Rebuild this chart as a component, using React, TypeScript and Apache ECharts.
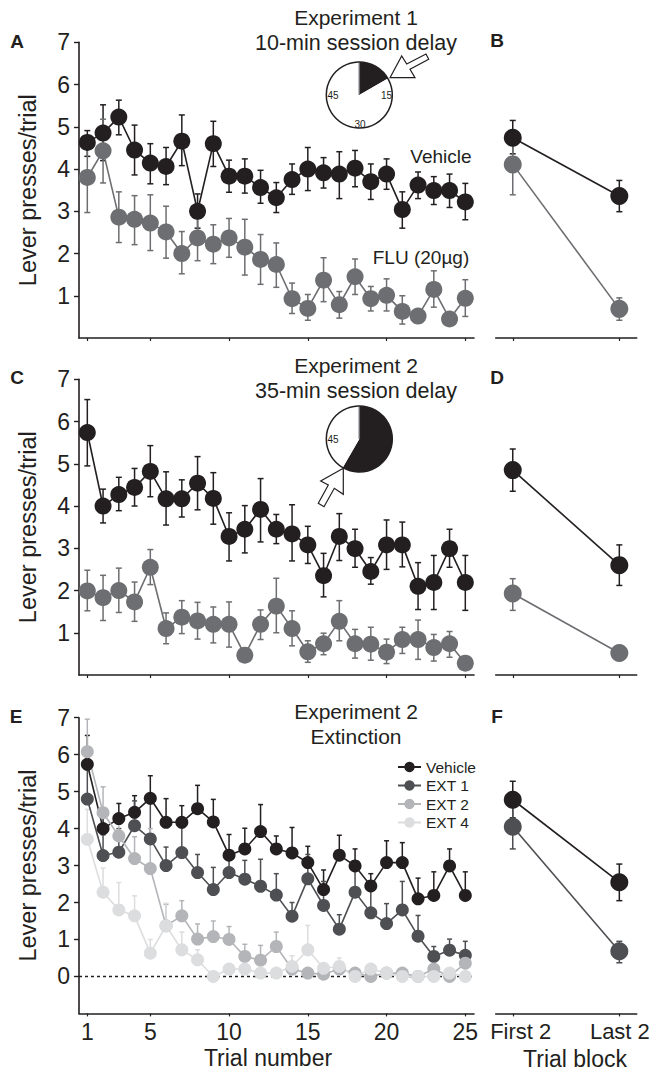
import React, { useEffect, useRef } from "react";
import * as echarts from "echarts";

const FONT = "Liberation Sans";
const BLACK = "#231f20";
const GRAY = "#6d6e71";
const DARK = "#4d4f52";
const LIGHT = "#b3b5b8";
const LIGHTEST = "#dcddde";

const trials = Array.from({ length: 25 }, (_, i) => i + 1);
const trialTicks = [1, 5, 10, 15, 20, 25];
const blockX = [1, 2];

// Panel A
const aVeh = [4.63, 4.85, 5.23, 4.45, 4.14, 4.06, 4.66, 3.0, 4.6, 3.83, 3.83, 3.56, 3.32, 3.75, 4.0, 3.91, 3.88, 4.02, 3.7, 3.88, 3.04, 3.62, 3.49, 3.49, 3.22];
const aVehHi = [4.91, 5.52, 5.63, 5.04, 4.6, 4.51, 5.28, 3.41, 5.13, 4.21, 4.24, 3.97, 3.68, 4.12, 4.51, 4.27, 4.41, 4.44, 4.12, 4.24, 3.46, 3.93, 3.82, 3.88, 3.66];
const aVehLo = [4.3, 4.2, 4.81, 3.86, 3.65, 3.63, 4.08, 2.6, 4.06, 3.45, 3.43, 3.19, 2.97, 3.4, 3.49, 3.55, 3.3, 3.58, 3.28, 3.52, 2.6, 3.3, 3.16, 3.09, 2.8];
const aFlu = [3.8, 4.43, 2.86, 2.81, 2.72, 2.51, 2.0, 2.37, 2.22, 2.37, 2.15, 1.86, 1.74, 0.93, 0.7, 1.37, 0.79, 1.45, 0.93, 1.01, 0.63, 0.52, 1.15, 0.45, 0.94];
const aFluHi = [4.63, 5.18, 3.46, 3.37, 3.39, 3.12, 2.52, 2.9, 2.68, 2.83, 2.81, 2.45, 2.25, 1.3, 1.03, 1.9, 1.1, 1.87, 1.22, 1.4, 1.0, 0.6, 1.59, 0.53, 1.38];
const aFluLo = [2.97, 3.67, 2.26, 2.21, 2.07, 1.89, 1.52, 1.83, 1.76, 1.91, 1.49, 1.27, 1.2, 0.58, 0.42, 0.86, 0.47, 1.03, 0.64, 0.64, 0.33, 0.44, 0.73, 0.37, 0.51];

// Panel B
const bVeh = [4.74, 3.36];
const bVehHi = [5.15, 3.73];
const bVehLo = [4.36, 2.99];
const bFlu = [4.11, 0.69];
const bFluHi = [4.81, 0.95];
const bFluLo = [3.39, 0.42];

// Panel C
const cVeh = [5.74, 4.0, 4.27, 4.44, 4.82, 4.17, 4.17, 4.54, 4.18, 3.28, 3.45, 3.92, 3.45, 3.34, 3.08, 2.35, 3.28, 2.99, 2.45, 3.08, 3.08, 2.1, 2.19, 2.99, 2.19];
const cVehHi = [6.52, 4.4, 4.68, 4.89, 5.43, 4.81, 4.62, 5.17, 4.79, 3.84, 4.01, 4.65, 3.8, 4.03, 3.52, 2.88, 3.82, 3.45, 2.78, 3.67, 3.62, 2.66, 2.83, 3.45, 2.83];
const cVehLo = [4.95, 3.6, 3.89, 4.0, 4.22, 3.55, 3.74, 3.91, 3.57, 2.7, 2.89, 3.15, 3.11, 2.7, 2.64, 1.85, 2.71, 2.55, 2.15, 2.5, 2.56, 1.55, 1.55, 2.55, 1.53];
const cFlu = [1.99, 1.83, 2.0, 1.73, 2.55, 1.1, 1.37, 1.28, 1.2, 1.2, 0.47, 1.2, 1.63, 1.1, 0.55, 0.74, 1.27, 0.74, 0.73, 0.54, 0.84, 0.84, 0.65, 0.74, 0.28];
const cFluHi = [2.48, 2.36, 2.53, 2.2, 2.97, 1.47, 1.76, 1.72, 1.61, 1.73, 0.55, 1.54, 2.29, 1.52, 0.81, 0.99, 1.76, 1.08, 1.13, 0.85, 1.13, 1.3, 0.96, 1.03, 0.33];
const cFluLo = [1.52, 1.29, 1.48, 1.27, 2.14, 0.74, 0.98, 0.85, 0.76, 0.66, 0.39, 0.84, 1.0, 0.69, 0.3, 0.48, 0.81, 0.4, 0.35, 0.27, 0.51, 0.37, 0.33, 0.42, 0.23];

// Panel D
const dVeh = [4.85, 2.6];
const dVehHi = [5.35, 3.08];
const dVehLo = [4.35, 2.12];
const dFlu = [1.93, 0.52];
const dFluHi = [2.28, 0.6];
const dFluLo = [1.53, 0.44];

// Panel E (upper error bars only)
const eExt1 = [4.8, 3.27, 3.36, 4.08, 3.72, 3.0, 3.35, 2.81, 2.35, 2.81, 2.63, 2.44, 2.2, 1.63, 2.64, 1.92, 1.28, 2.28, 1.72, 1.43, 1.8, 1.09, 0.54, 0.71, 0.57];
const eExt1Hi = [5.7, 3.83, 4.0, 4.75, 4.75, 3.5, 4.2, 3.3, 2.95, 3.38, 3.14, 3.17, 2.78, 2.0, 3.3, 2.57, 1.67, 2.93, 2.41, 1.97, 2.57, 1.65, 0.81, 1.01, 0.95];
const eExt2 = [6.08, 4.43, 3.8, 3.19, 2.92, 1.37, 1.64, 1.01, 1.08, 1.0, 0.54, 0.44, 0.81, 0.2, 0.09, 0.06, 0.2, 0.09, 0.0, 0.09, 0.09, 0.0, 0.2, 0.0, 0.36];
const eExt2Hi = [6.96, 5.13, 4.39, 3.78, 4.0, 1.95, 2.05, 1.42, 1.5, 1.35, 0.87, 0.84, 1.2, 0.3, 0.15, 0.12, 0.3, 0.15, 0.05, 0.15, 0.15, 0.05, 0.3, 0.05, 0.5];
const eExt4 = [3.71, 2.28, 1.8, 1.64, 0.63, 1.37, 0.72, 0.45, 0.0, 0.2, 0.2, 0.09, 0.09, 0.27, 0.72, 0.22, 0.27, 0.0, 0.2, 0.09, 0.0, 0.0, 0.0, 0.09, 0.0];
const eExt4Hi = [4.52, 2.93, 2.54, 2.18, 1.0, 1.98, 1.2, 0.72, 0.05, 0.3, 0.3, 0.15, 0.15, 0.56, 1.38, 0.35, 0.5, 0.05, 0.3, 0.15, 0.05, 0.05, 0.05, 0.15, 0.05];

// Panel F
const fVeh = [4.78, 2.55];
const fVehHi = [5.28, 3.04];
const fVehLo = [4.29, 2.05];
const fExt1 = [4.05, 0.68];
const fExt1Hi = [4.6, 0.95];
const fExt1Lo = [3.45, 0.37];

// Clock pies (minutes)
const pieA = [10, 50];
const pieC = [35, 25];

const yTicksAC = [1, 2, 3, 4, 5, 6, 7];
const yTicksE = [0, 1, 2, 3, 4, 5, 6, 7];

const App = () => {
  const ref = useRef<HTMLDivElement>(null);
  useEffect(() => {
    document.body.style.margin = "0";
    const chart = echarts.init(ref.current!, null, { renderer: "svg" });

    const grids: any[] = [];
    const xAxes: any[] = [];
    const yAxes: any[] = [];
    const series: any[] = [];

    const addPanel = (p: {
      top: number; left: number; width: number; min: number; max: number; xMin: number; xMax: number;
      ticks: number[]; labels: boolean; yTicks?: number[]; block?: boolean;
    }) => {
      const i = grids.length;
      grids.push({ left: p.left, top: p.top, width: p.width, height: 295.7 });
      xAxes.push({
        type: "value", gridIndex: i, min: p.xMin, max: p.xMax,
        splitLine: { show: false },
        axisLine: { onZero: false, lineStyle: { color: BLACK, width: 1.6 } },
        axisTick: { length: 3, customValues: p.ticks, lineStyle: { color: BLACK, width: 1.2 } },
        axisLabel: p.labels
          ? p.block
            ? {
                customValues: [1.075, 2.005], margin: 7, fontSize: 22, fontFamily: FONT, color: BLACK,
                hideOverlap: false, showMinLabel: true, showMaxLabel: true,
                formatter: (v: number) => (v < 1.5 ? "First 2" : "Last 2"),
              }
            : { customValues: p.ticks, margin: 7, fontSize: 23, fontFamily: FONT, color: BLACK }
          : { show: false },
      });
      yAxes.push(
        p.yTicks
          ? {
              type: "value", gridIndex: i, min: p.min, max: p.max, interval: 1,
              splitLine: { show: false },
              axisLine: { show: true, onZero: false, lineStyle: { color: BLACK, width: 1.6 } },
              axisTick: { show: true, length: 5, customValues: p.yTicks, lineStyle: { color: BLACK, width: 1.4 } },
              axisLabel: { customValues: p.yTicks, margin: 9, fontSize: 23, fontFamily: FONT, color: BLACK },
              name: "Lever presses/trial", nameLocation: "middle", nameGap: 39,
              nameTextStyle: { fontSize: 23.5, fontFamily: FONT, color: BLACK },
            }
          : { type: "value", gridIndex: i, min: p.min, max: p.max, show: false }
      );
      return i;
    };

    const addErr = (i: number, xs: number[], hi: number[], lo: number[], color: string, capW: number) => {
      series.push({
        type: "custom", xAxisIndex: i, yAxisIndex: i, silent: true, clip: false,
        encode: { x: 0, y: [1, 2] },
        data: xs.map((x, k) => [x, hi[k], lo[k]]),
        renderItem: (_: any, api: any) => {
          const top = api.coord([api.value(0), api.value(1)]);
          const bot = api.coord([api.value(0), api.value(2)]);
          const st = { stroke: color, lineWidth: 1.5, fill: "none" };
          return {
            type: "group",
            children: [
              { type: "line", shape: { x1: top[0], y1: top[1], x2: bot[0], y2: bot[1] }, style: st },
              { type: "line", shape: { x1: top[0] - capW, y1: top[1], x2: top[0] + capW, y2: top[1] }, style: st },
              { type: "line", shape: { x1: bot[0] - capW, y1: bot[1], x2: bot[0] + capW, y2: bot[1] }, style: st },
            ],
          };
        },
      });
    };

    const addLine = (i: number, name: string, xs: number[], ys: number[], color: string, size: number) => {
      series.push({
        type: "line", name, xAxisIndex: i, yAxisIndex: i, silent: true, clip: false,
        data: xs.map((x, k) => [x, ys[k]]),
        symbol: "circle", symbolSize: size, showSymbol: true,
        lineStyle: { color, width: 1.6 },
        itemStyle: { color },
      });
    };

    const TRIAL = { left: 79, width: 395, xMin: 0.472, xMax: 25.552, ticks: trialTicks };
    const BLOCK = { left: 495.7, width: 141, xMin: 0.84, xMax: 2.163, ticks: blockX };

    const A = addPanel({ ...TRIAL, top: 42.3, min: 0, max: 7, labels: false, yTicks: yTicksAC });
    addErr(A, trials, aVehHi, aVehLo, BLACK, 3);
    addLine(A, "A Vehicle", trials, aVeh, BLACK, 17);
    addErr(A, trials, aFluHi, aFluLo, GRAY, 3);
    addLine(A, "A FLU", trials, aFlu, GRAY, 17);

    const B = addPanel({ ...BLOCK, top: 42.3, min: 0, max: 7, labels: false });
    addErr(B, blockX, bVehHi, bVehLo, BLACK, 3);
    addLine(B, "B Vehicle", blockX, bVeh, BLACK, 18);
    addErr(B, blockX, bFluHi, bFluLo, GRAY, 3);
    addLine(B, "B FLU", blockX, bFlu, GRAY, 18);

    const C = addPanel({ ...TRIAL, top: 379.3, min: 0, max: 7, labels: false, yTicks: yTicksAC });
    addErr(C, trials, cVehHi, cVehLo, BLACK, 3);
    addLine(C, "C Vehicle", trials, cVeh, BLACK, 17);
    addErr(C, trials, cFluHi, cFluLo, GRAY, 3);
    addLine(C, "C FLU", trials, cFlu, GRAY, 17);

    const D = addPanel({ ...BLOCK, top: 379.3, min: 0, max: 7, labels: false });
    addErr(D, blockX, dVehHi, dVehLo, BLACK, 3);
    addLine(D, "D Vehicle", blockX, dVeh, BLACK, 18);
    addErr(D, blockX, dFluHi, dFluLo, GRAY, 3);
    addLine(D, "D FLU", blockX, dFlu, GRAY, 18);

    const E = addPanel({ ...TRIAL, top: 717.7, min: -1, max: 7, labels: true, yTicks: yTicksE });
    series.push({
      type: "line", name: "zero", xAxisIndex: E, yAxisIndex: E, silent: true, symbol: "none",
      data: [[TRIAL.xMin, 0], [TRIAL.xMax, 0]],
      lineStyle: { color: BLACK, width: 1.5, type: [3, 3] },
    });
    addErr(E, trials, cVehHi, cVeh, BLACK, 2.5);
    addLine(E, "Vehicle", trials, cVeh, BLACK, 13);
    addErr(E, trials, eExt1Hi, eExt1, DARK, 2.5);
    addLine(E, "EXT 1", trials, eExt1, DARK, 13);
    addErr(E, trials, eExt2Hi, eExt2, LIGHT, 2.5);
    addLine(E, "EXT 2", trials, eExt2, LIGHT, 13);
    addErr(E, trials, eExt4Hi, eExt4, LIGHTEST, 2.5);
    addLine(E, "EXT 4", trials, eExt4, LIGHTEST, 13);

    const F = addPanel({ ...BLOCK, top: 717.7, min: -1, max: 7, labels: true, block: true });
    addErr(F, blockX, fVehHi, fVehLo, BLACK, 3);
    addLine(F, "F Vehicle", blockX, fVeh, BLACK, 18);
    addErr(F, blockX, fExt1Hi, fExt1Lo, DARK, 3);
    addLine(F, "F EXT 1", blockX, fExt1, DARK, 18);

    const pie = (cy: number, values: number[]) => ({
      type: "pie", silent: true, center: [359.3, cy], radius: [0, 33], startAngle: 90, clockwise: true,
      label: { show: false }, labelLine: { show: false }, z: 5,
      data: [
        { value: values[0], name: "session", itemStyle: { color: BLACK } },
        { value: values[1], name: "rest", itemStyle: { color: "#ffffff" } },
      ],
    });
    series.push(pie(95, pieA), pie(439, pieC));

    const txt = (text: string, x: number, y: number, fontSize: number, extra: any = {}) => ({
      type: "text", x, y, z: 20,
      style: { text, fontSize, fontFamily: FONT, fill: BLACK, align: "center", verticalAlign: "middle", ...extra },
    });
    const bold = { fontWeight: "bold" };
    const ring = (cy: number) => ({
      type: "circle", z: 10, shape: { cx: 359.3, cy, r: 33 },
      style: { fill: "none", stroke: BLACK, lineWidth: 1.5 },
    });
    const noon = (cy: number) => ({
      type: "line", z: 11, shape: { x1: 359.3, y1: cy - 32, x2: 359.3, y2: cy },
      style: { stroke: GRAY, lineWidth: 1.5 },
    });
    const arrowStyle = { fill: "#ffffff", stroke: BLACK, lineWidth: 1.2 };

    chart.setOption({
      animation: false,
      grid: grids, xAxis: xAxes, yAxis: yAxes, series,
      legend: {
        left: 392, top: 754, orient: "vertical", itemWidth: 23, itemHeight: 13, itemGap: 2.5,
        selectedMode: false,
        data: ["Vehicle", "EXT 1", "EXT 2", "EXT 4"],
        textStyle: { fontSize: 15.5, fontFamily: FONT, color: BLACK },
      },
      graphic: [
        ring(95), noon(95), ring(439), noon(439),
        { type: "polygon", z: 12, shape: { points: [[390, 77.7], [401.7, 56], [406.7, 64], [426, 54], [428.7, 59.3], [410, 69.3], [415, 77.7]] }, style: arrowStyle },
        { type: "polygon", z: 12, shape: { points: [[343.3, 468.3], [343.3, 494.3], [334.3, 488.3], [324, 506.7], [318.3, 503.3], [328.3, 485], [320.7, 481]] }, style: arrowStyle },
        txt("15", 386.5, 95.7, 10),
        txt("45", 333, 95.7, 10),
        txt("30", 360, 124, 10),
        txt("45", 333, 439, 10),
        txt("A", 17, 41, 19, bold),
        txt("B", 497, 40, 19, bold),
        txt("C", 17, 377, 19, bold),
        txt("D", 497, 377, 19, bold),
        txt("E", 16, 716, 19, bold),
        txt("F", 497, 716, 19, bold),
        txt("Experiment 1", 356, 17, 21),
        txt("10-min session delay", 356, 43, 21.5),
        txt("Experiment 2", 356, 365, 21),
        txt("35-min session delay", 356, 391, 21.5),
        txt("Experiment 2", 356, 711, 21),
        txt("Extinction", 356, 736, 21),
        txt("Vehicle", 441, 156, 19),
        txt("FLU (20µg)", 421, 257, 19),
        txt("Trial number", 268, 1058, 23),
        txt("Trial block", 575, 1059, 23),
      ],
    });
    return () => chart.dispose();
  }, []);
  return <div ref={ref} style={{ position: "absolute", left: 0, top: 0, width: 653, height: 1071 }} />;
};

export default App;
